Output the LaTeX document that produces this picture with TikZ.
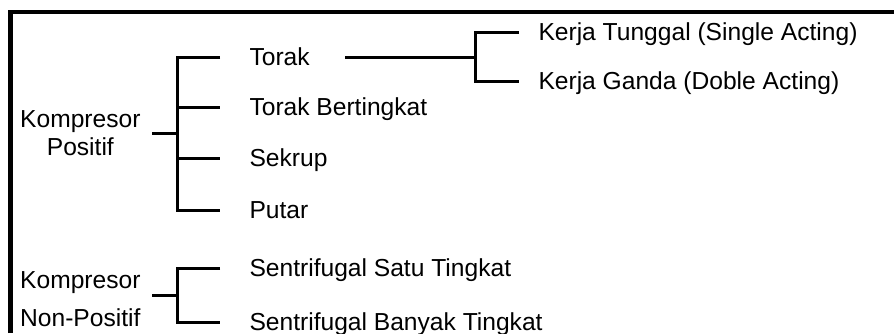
\documentclass[tikz,border=0pt]{standalone}
\usepackage{fontspec}
\setmainfont{Liberation Sans}
\begin{document}
\begin{tikzpicture}[x=0.5pt,y=-0.5pt,line width=1.5pt]
		\tikzstyle{every node}+=[inner sep=0pt,font=\fontsize{12.3}{14}\selectfont]
		\tikzstyle{root}=[align=center,anchor=east,inner xsep=5pt]
		\tikzstyle{leaf}=[anchor=west,inner xsep=14pt,text height=8pt,text depth=0pt]
		\tikzstyle{subleaf}=[leaf,inner xsep=9pt]
		\useasboundingbox (0,0) rectangle (894,333);
		\draw [black,line width=2.2pt] (10.5,333) -- (10.5,12) -- (894,12);
		\coordinate (kpj) at (177,133);
		\coordinate (knj) at (177,295);
		\coordinate (trj) at (475,57);
		\node [root] (kp) at (152,133) {Kompresor\\Positif};
		\node [leaf] (torak) at (220,57) {Torak};
		\node [leaf] (torakb) at (220,107) {Torak Bertingkat};
		\node [leaf] (sekrup) at (220,158) {Sekrup};
		\node [leaf] (putar) at (220,210) {Putar};
		\node [subleaf] (tunggal) at (519,32) {Kerja Tunggal (Single Acting)};
		\node [subleaf] (ganda) at (519,81) {Kerja Ganda (Doble Acting)};
		\node [root] (kn) at (152,299) {Kompresor\\[5pt]Non-Positif};
		\node [leaf] (satu) at (220,268) {Sentrifugal Satu Tingkat};
		\node [leaf] (banyak) at (220,322) {Sentrifugal Banyak Tingkat};
		\draw [black] (kp) -- (kpj);
		\draw [black] (torak) -| (kpj) |- (putar);
		\draw [black] (kpj) |- (torakb);
		\draw [black] (kpj) |- (sekrup);
		\draw [black,shorten <=3pt] (torak) -- (trj);
		\draw [black] (tunggal) -| (trj) |- (ganda);
		\draw [black] (kn.east |- knj) -- (knj);
		\draw [black] (satu) -| (knj) |- (banyak);
	\end{tikzpicture}
\end{document}
